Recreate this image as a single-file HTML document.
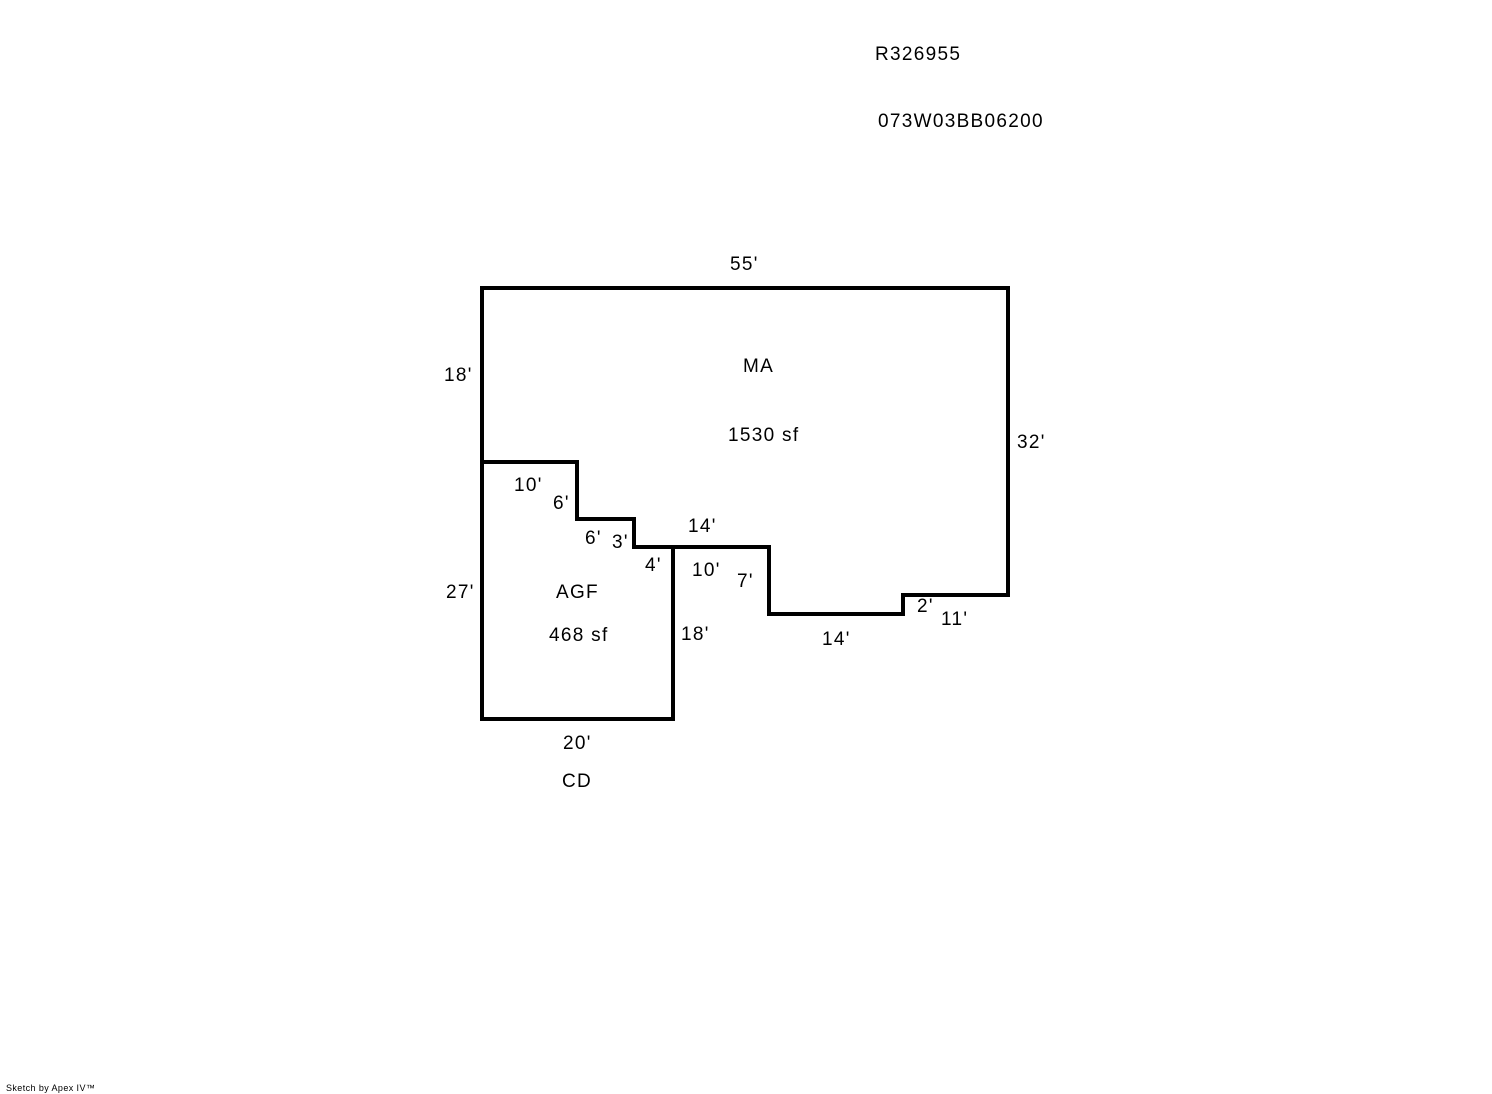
<!DOCTYPE html>
<html><head><style>
body{margin:0;background:#fff;}
svg{display:block;}
text{font-family:"Liberation Sans",Arial,sans-serif;font-size:19px;letter-spacing:1.3px;fill:#000;}
</style></head><body>
<svg width="1492" height="1094" xmlns="http://www.w3.org/2000/svg">
<g fill="none" stroke="#000" stroke-width="4" stroke-linejoin="miter">
<polyline points="482,462 482,288 1008,288 1008,595 903,595 903,614 769,614 769,547 673,547"/>
<polyline points="482,462 577,462 577,519 634,519 634,547 673,547 673,719 482,719 482,462"/>
</g>
<text x="875" y="60">R326955</text>
<text x="878" y="127">073W03BB06200</text>
<text x="730" y="270">55'</text>
<text x="743" y="372">MA</text>
<text x="728" y="441">1530 sf</text>
<text x="444" y="381">18'</text>
<text x="1017" y="448">32'</text>
<text x="514" y="491">10'</text>
<text x="553" y="509">6'</text>
<text x="585" y="544">6'</text>
<text x="612" y="548">3'</text>
<text x="688" y="532">14'</text>
<text x="645" y="571">4'</text>
<text x="692" y="576">10'</text>
<text x="737" y="587">7'</text>
<text x="446" y="598">27'</text>
<text x="556" y="598">AGF</text>
<text x="549" y="641">468 sf</text>
<text x="681" y="640">18'</text>
<text x="822" y="645">14'</text>
<text x="917" y="612">2'</text>
<text x="941" y="625">11'</text>
<text x="563" y="749">20'</text>
<text x="562" y="787">CD</text>
<text x="6" y="1091" style="font-size:9px;letter-spacing:0.4px">Sketch by Apex IV™</text>
</svg>
</body></html>
